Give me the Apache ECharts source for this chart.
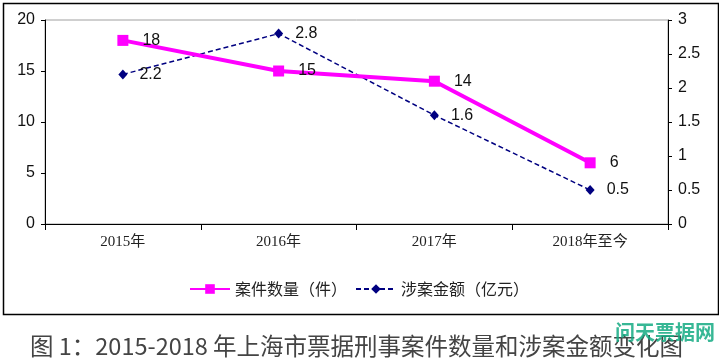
<!DOCTYPE html>
<html><head><meta charset="utf-8">
<script src="https://cdn.jsdelivr.net/npm/echarts@6/dist/echarts.min.js"></script>
<style>html,body{margin:0;padding:0;background:#fff}#c{width:719px;height:363px}</style>
</head><body><div id="c"></div>
<script>
const categories = ['2015年', '2016年', '2017年', '2018年至今'];
const caseCounts = [18, 15, 14, 6];
const caseAmounts = [2.2, 2.8, 1.6, 0.5];
const seriesNames = ['案件数量（件）', '涉案金额（亿元）'];
const leftTicks = {min: 0, max: 20, interval: 5};
const rightTicks = {min: 0, max: 3, interval: 0.5};
const captionText = '图 1：2015-2018 年上海市票据刑事案件数量和涉案金额变化图';
const watermarkText = '问天票据网';

const chart = echarts.init(document.getElementById('c'));
const numFont = {fontFamily: 'Liberation Sans, Arial, sans-serif', fontSize: 16, color: '#111'};
chart.setOption({
  animation: false,
  grid: {left: 45, right: 51, top: 20, bottom: 139, show: true, borderColor: '#a0a0a0', borderWidth: 1},
  legend: {
    left: 184, top: 276, itemWidth: 40, itemHeight: 12, itemGap: 8,
    textStyle: {fontFamily: 'Noto Sans CJK SC', fontSize: 16, color: '#222'},
    data: seriesNames
  },
  xAxis: {
    type: 'category', data: categories, boundaryGap: true,
    axisLine: {lineStyle: {color: '#000', width: 1}},
    axisTick: {show: true, length: 6, lineStyle: {color: '#000'}},
    axisLabel: {fontFamily: 'Liberation Serif, Noto Sans CJK SC, serif', fontSize: 15, color: '#222', margin: 11}
  },
  yAxis: [{
    type: 'value', min: leftTicks.min, max: leftTicks.max, interval: leftTicks.interval,
    axisLine: {show: true, lineStyle: {color: '#000'}},
    axisTick: {show: true, length: 4, lineStyle: {color: '#000'}},
    splitLine: {show: false},
    axisLabel: Object.assign({margin: 10}, numFont)
  }, {
    type: 'value', min: rightTicks.min, max: rightTicks.max, interval: rightTicks.interval,
    position: 'right',
    axisLine: {show: true, lineStyle: {color: '#000'}},
    axisTick: {show: true, length: 4, lineStyle: {color: '#000'}},
    splitLine: {show: false},
    axisLabel: Object.assign({margin: 10}, numFont)
  }],
  series: [{
    name: seriesNames[0], type: 'line', data: caseCounts, yAxisIndex: 0,
    lineStyle: {color: '#ff00ff', width: 4},
    itemStyle: {color: '#ff00ff'},
    symbol: 'rect', symbolSize: 11,
    label: Object.assign({show: true, position: 'right', distance: 14}, numFont),
    z: 3
  }, {
    name: seriesNames[1], type: 'line', data: caseAmounts, yAxisIndex: 1,
    lineStyle: {color: '#000080', width: 1.5, type: [5, 3]},
    itemStyle: {color: '#000080'},
    symbol: 'diamond', symbolSize: [9, 10],
    label: Object.assign({show: true, position: 'right', distance: 12}, numFont),
    z: 2
  }],
  graphic: [{
    type: 'rect', left: 1, top: 1, shape: {x: 0, y: 0, width: 715, height: 311},
    style: {fill: 'none', stroke: '#000', lineWidth: 1.5}, silent: true
  }, {
    type: 'text', left: 30, top: 334,
    style: {text: captionText, font: '23.5px "Noto Sans CJK SC"', fill: '#444'}
  }, {
    type: 'text', left: 615, top: 322,
    style: {text: watermarkText, font: 'bold 20px "Noto Sans CJK SC"', fill: 'rgba(20,170,130,0.85)'}
  }]
});
</script></body></html>
